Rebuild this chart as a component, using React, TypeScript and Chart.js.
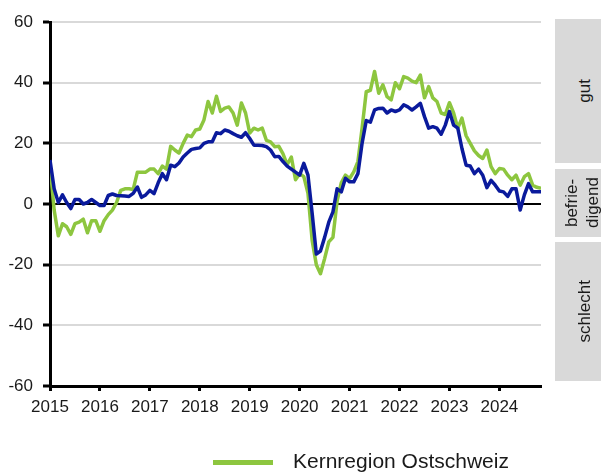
import React, { useEffect, useRef } from "react";
import { Chart, registerables } from "chart.js";

Chart.register(...registerables);

const startYear = 2015;
const yearTicks = [2015, 2016, 2017, 2018, 2019, 2020, 2021, 2022, 2023, 2024];
const yMin = -60;
const yMax = 60;
const yStep = 20;

const seriesNames = ["Schweiz", "Kernregion Ostschweiz"];
const seriesColors = ["#0a1a9c", "#8dc63f"];

// Monthly values Jan 2015 .. Nov 2024
const blue = [
  14.5, 5, 0.5, 3, 0.5, -1.5, 1.5, 1.5, 0, 0.5, 1.5, 0.5,
  -0.5, -0.5, 2.8, 3.3, 2.8, 2.7, 2.6, 2.5, 3.5, 5.6, 2.2, 3,
  4.5, 3.4, 7, 10, 8, 12.8, 12.3, 13.5, 15.5, 16.8, 18, 18.3,
  18.5, 20, 20.5, 20.5, 23.5, 23.2, 24.4, 24, 23.2, 22.5, 22, 23.5,
  21.6, 19.4, 19.4, 19.3, 18.9, 17.8, 15.6, 15.7, 14, 12.5, 11.5, 10.5,
  9.5, 13.4, 9.5, -3, -16.5, -15.5, -11, -6, -2.6, 5, 4, 8.5,
  7.3, 7.3, 10, 20, 27.5, 27, 31, 31.5, 31.6, 30, 31, 30.5,
  31, 32.7, 32, 31, 32, 33.2, 28.8, 25, 25.5, 25, 23, 26,
  30.5, 26, 25, 18.3, 12.8, 12.5, 10, 11.5, 9.5, 5.4, 7.8, 6.2,
  4.3, 4, 2.5, 5, 5, -2, 3, 6.7, 4, 4, 4,
];

const green = [
  13, -2, -10.5, -6.5, -7.5, -10, -6.5, -6, -5, -9.5, -5.5, -5.5,
  -9, -5.5, -3.5, -2, 0.5, 4.5, 5, 5, 4.8, 10.5, 10.5, 10.5,
  11.5, 11.5, 10, 12.5, 11.5, 19, 17.8, 16.8, 20, 22.7, 22.2, 24.4,
  24.7, 27.7, 33.8, 30, 35.5, 30.5, 31.6, 32, 30, 26, 33.3, 30,
  23.4, 25, 24.4, 25, 21, 20.5, 18.9, 19, 16.5, 13, 15.5, 8,
  10, 9, 3.5, -12, -20, -23, -18, -12.5, -11, 1, 7, 9.5,
  8.4, 10.6, 14, 25, 37, 37.5, 43.7, 36.5, 39.3, 35.4, 34.3, 40,
  38, 42, 41.5, 40.5, 40, 42.5, 35, 38.7, 35, 33.8, 30, 29.5,
  33.4, 30, 25, 28.3, 22.5, 20, 17.5, 16, 15, 17.8, 12.3, 10,
  11.7, 11.5, 9.5, 8, 9.5, 6.2, 9, 10, 6.2, 5.5, 5.2,
];

const zoneLabels = ["gut", "befrie-\ndigend", "schlecht"];
const legendLabel = seriesNames[1];

const FONT = "'Liberation Sans', Arial, Helvetica, sans-serif";
const TEXT = "#1a1a1a";

const toPoints = (vals: number[]) =>
  vals.map((v, i) => ({ x: startYear + i / 12, y: v }));

export default function App() {
  const ref = useRef<HTMLCanvasElement | null>(null);

  useEffect(() => {
    if (!ref.current) return;
    const chart = new Chart(ref.current, {
      type: "line",
      data: {
        datasets: [
          {
            label: seriesNames[0],
            data: toPoints(blue),
            borderColor: seriesColors[0],
            backgroundColor: seriesColors[0],
            borderWidth: 3.5,
            pointRadius: 0,
            tension: 0,
            borderJoinStyle: "round",
          },
          {
            label: seriesNames[1],
            data: toPoints(green),
            borderColor: seriesColors[1],
            backgroundColor: seriesColors[1],
            borderWidth: 3.5,
            pointRadius: 0,
            tension: 0,
            borderJoinStyle: "round",
          },
        ],
      },
      options: {
        responsive: false,
        animation: false,
        devicePixelRatio: 1,
        layout: { padding: { top: 22, right: 60, left: 0, bottom: 0 } },
        plugins: {
          legend: { display: false },
          tooltip: { enabled: false },
        },
        scales: {
          x: {
            type: "linear",
            min: startYear,
            max: startYear + (green.length - 1) / 12,
            afterBuildTicks: (s: any) => {
              s.ticks = yearTicks.map((v) => ({ value: v }));
            },
            afterFit: (s: any) => {
              s.height = 88;
            },
            ticks: {
              autoSkip: false,
              maxRotation: 0,
              padding: 6,
              color: TEXT,
              font: { family: FONT, size: 17 },
              callback: (v: any) => String(v),
            },
            grid: {
              drawOnChartArea: false,
              drawTicks: true,
              tickLength: 5,
              tickWidth: 3,
              tickColor: "#000",
            },
            border: { display: true, color: "#000", width: 3 },
          },
          y: {
            min: yMin,
            max: yMax,
            afterFit: (s: any) => {
              s.width = 50;
            },
            ticks: {
              stepSize: yStep,
              padding: 10,
              color: TEXT,
              font: { family: FONT, size: 17 },
            },
            grid: {
              color: (c: any) => (c.tick && c.tick.value === 0 ? "#000" : "#d9d9d9"),
              lineWidth: 2,
              tickLength: 7,
              tickWidth: 3,
              tickColor: "#000",
            },
            border: { display: true, color: "#000", width: 3 },
          },
        },
      },
    });
    return () => chart.destroy();
  }, []);

  const boxes = [
    { top: 19, height: 144, width: 58 },
    { top: 169, height: 68, width: 54 },
    { top: 242, height: 139, width: 58 },
  ];

  return (
    <div
      style={{
        position: "absolute",
        left: 0,
        top: 0,
        width: 601,
        height: 474,
        overflow: "hidden",
        background: "#fff",
        fontFamily: FONT,
      }}
    >
      <canvas
        ref={ref}
        width={601}
        height={474}
        style={{ position: "absolute", left: 0, top: 0, width: 601, height: 474 }}
      />
      {zoneLabels.map((lab, i) => (
        <div
          key={i}
          style={{
            position: "absolute",
            left: 555,
            top: boxes[i].top,
            width: boxes[i].width,
            height: boxes[i].height,
            background: "#d9d9d9",
            display: "flex",
            alignItems: "center",
            justifyContent: "center",
          }}
        >
          <div
            style={{
              writingMode: "vertical-rl",
              transform: "rotate(180deg)",
              whiteSpace: "pre",
              fontSize: 17,
              lineHeight: "21px",
              color: TEXT,
              textAlign: "center",
            }}
          >
            {lab}
          </div>
        </div>
      ))}
      <div
        style={{
          position: "absolute",
          left: 213,
          top: 460,
          width: 60,
          height: 5,
          background: seriesColors[1],
        }}
      />
      <div
        style={{
          position: "absolute",
          left: 293,
          top: 449,
          fontSize: 21,
          lineHeight: "24px",
          color: TEXT,
          whiteSpace: "nowrap",
        }}
      >
        {legendLabel}
      </div>
    </div>
  );
}
